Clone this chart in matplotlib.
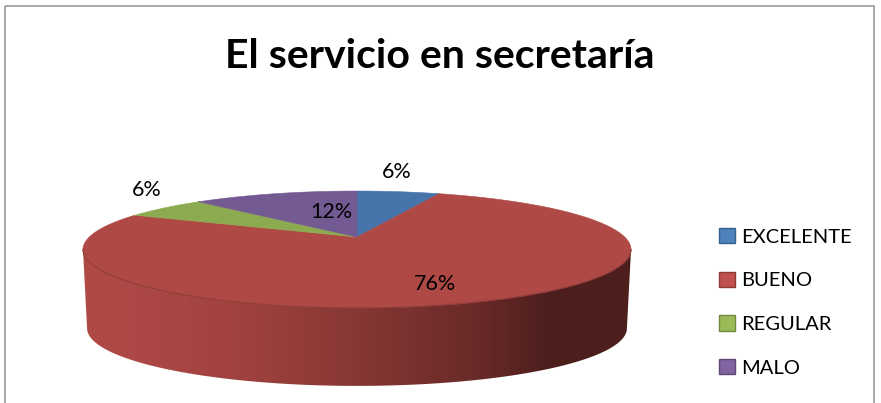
import numpy as np
import matplotlib
matplotlib.use("Agg")
import matplotlib.pyplot as plt
from matplotlib.patches import Patch, Polygon, Rectangle

plt.rcParams['font.family'] = ['Lato', 'DejaVu Sans']

categories = ['EXCELENTE', 'BUENO', 'REGULAR', 'MALO']
values = [6, 76, 6, 12]
labels = ['6%', '76%', '6%', '12%']
colors = ['#4674AB', '#AE4946', '#8CAB50', '#745A92']
legend_colors = ['#4F81BD', '#C0504D', '#9BBB59', '#8064A2']
legend_edges = ['#3A5F8B', '#8C3836', '#71893F', '#5C4776']
label_pos = [(397, 172), (435, 284), (147, 190), (331, 212)]

# pie geometry in image pixels, k gives the perspective of the tilted disc
cx, cy = 357, 237
rx, ry = 267.7, 55.8
k = 0.2137
depth_scale = 0.985
bottom_cy = 316


def rim(theta, scale=1.0, y0=cy):
    # theta is clockwise from the top of the disc, in radians
    u, v = np.sin(theta), np.cos(theta)
    w = 1 + k * v
    return cx + scale * rx * u / w, y0 - scale * ry * v / w


fig = plt.figure(figsize=(8.81, 4.03), dpi=100)
ax = fig.add_axes([0, 0, 1, 1])

# side wall, horizontal gradient clipped to the front of the disc
front = np.linspace(np.arccos(-k), 2 * np.pi - np.arccos(-k), 300)
tx, ty = rim(front)
bx, by = rim(front, depth_scale, bottom_cy)
wall = Polygon(np.r_[np.c_[tx, ty], np.c_[bx, by][::-1]], closed=True,
               transform=ax.transData, facecolor='none', edgecolor='none')
ax.add_patch(wall)
grad_x = np.arange(80, 635)
stops_x = [80, 135, 240, 357, 480, 545, 635]
stops = np.array([[176, 74, 71], [172, 72, 69], [160, 66, 63], [135, 55, 52],
                  [104, 42, 40], [78, 31, 29], [76, 30, 28]]) / 255
grad = np.stack([np.interp(grad_x, stops_x, stops[:, i]) for i in range(3)], axis=-1)[None, :, :]
im = ax.imshow(grad, extent=[80, 635, 390, 240], aspect='auto', interpolation='bilinear')
im.set_clip_path(wall)

# top face wedges from the values
edges = np.r_[0, np.cumsum(values)] / np.sum(values) * 2 * np.pi
for start, end, color in zip(edges[:-1], edges[1:], colors):
    theta = np.linspace(start, end, 200)
    x, y = rim(theta)
    ax.fill(np.r_[cx, x], np.r_[cy, y], facecolor=color, edgecolor=color, linewidth=0.4)

# darker line where the top face meets the wall
ax.plot(tx, ty, color='#8F3B39', linewidth=0.8)

for text, (x, y) in zip(labels, label_pos):
    ax.text(x, y, text, fontsize=15.5, color='black', ha='center', va='center')

ax.text(440, 56, 'El servicio en secretaría', fontsize=29.5, fontweight='bold',
        color='black', ha='center', va='center')

# chart frame, bottom edge is cut off by the image
ax.add_patch(Rectangle((5, 6), 868.5, 420, facecolor='none', edgecolor='#9A9A9A', linewidth=1.2))

handles = [Patch(facecolor=c, edgecolor=e, linewidth=1.0) for c, e in zip(legend_colors, legend_edges)]
ax.legend(handles, categories, loc='upper left', bbox_to_anchor=(719 / 881, 1 - 228 / 403),
          frameon=False, fontsize=14.5, handlelength=0.8, handleheight=0.8, handletextpad=0.3,
          labelspacing=1.29, borderpad=0, borderaxespad=0)

ax.set_xlim(0, 881)
ax.set_ylim(403, 0)
ax.axis('off')
fig.savefig('out.png', dpi=100)
